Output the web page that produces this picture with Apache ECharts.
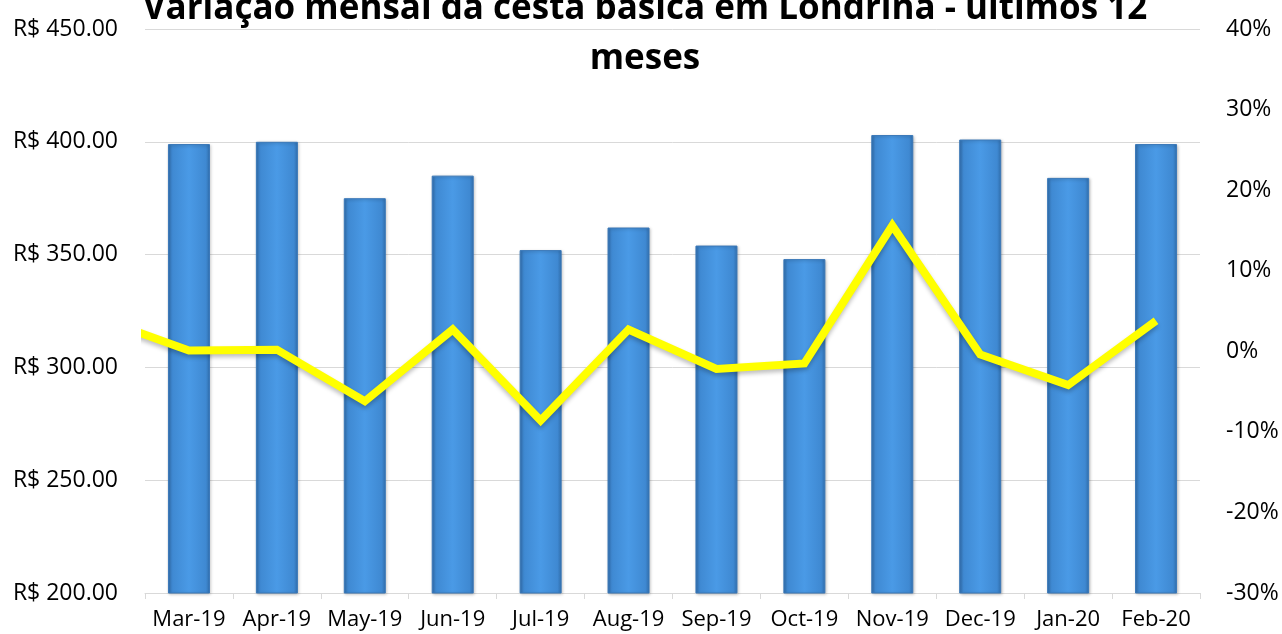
<!DOCTYPE html>
<html>
<head>
<meta charset="utf-8">
<script src="https://cdn.jsdelivr.net/npm/echarts@6/dist/echarts.min.js"></script>
<style>
html,body{margin:0;padding:0;background:#fff;}
#chart{width:1282px;height:634px;}
</style>
</head>
<body>
<div id="chart"></div>
<script>
var titleText = 'Variação mensal da cesta básica em Londrina - últimos 12\nmeses';
var categories = ['Mar-19','Apr-19','May-19','Jun-19','Jul-19','Aug-19','Sep-19','Oct-19','Nov-19','Dec-19','Jan-20','Feb-20'];
var basketPrice = [399, 400, 375, 385, 352, 362, 354, 348, 403, 401, 384, 399];
var monthlyVariation = [0.1, 0.2, -6.2, 2.7, -8.6, 2.7, -2.2, -1.5, 15.6, -0.4, -4.2, 3.8];
var priorMonthVariation = 4.0; // Feb-19, mostly clipped at the left edge
var priceAxis = {min: 200, max: 450, interval: 50};
var pctAxis = {min: -30, max: 40, interval: 10};

var linePoints = [[-1, priorMonthVariation]].concat(monthlyVariation.map(function (v, i) { return [i, v]; }));

var FONT = '"Open Sans", "Noto Sans", sans-serif';
var chart = echarts.init(document.getElementById('chart'), null, {renderer: 'canvas'});
chart.setOption({
  animation: false,
  backgroundColor: '#ffffff',
  title: {
    text: titleText,
    left: 640,
    top: -21,
    textAlign: 'center',
    textStyle: {fontFamily: FONT, fontWeight: 'bold', fontSize: 35, color: '#000', lineHeight: 50}
  },
  grid: {left: 145, right: 82, top: 29, bottom: 41, containLabel: false},
  xAxis: [{
    type: 'category',
    data: categories,
    boundaryGap: true,
    axisLine: {onZero: false, lineStyle: {color: '#d9d9d9', width: 1}},
    axisTick: {show: true, length: 6, lineStyle: {color: '#d9d9d9'}},
    axisLabel: {fontFamily: FONT, fontSize: 22, color: '#000', margin: 16, interval: 0},
    splitLine: {show: false}
  }, {
    type: 'value',
    min: -0.5,
    max: 11.5,
    show: false
  }],
  yAxis: [{
    type: 'value',
    min: priceAxis.min, max: priceAxis.max, interval: priceAxis.interval,
    axisLine: {show: false},
    axisTick: {show: false},
    axisLabel: {fontFamily: FONT, fontSize: 23, color: '#000', margin: 27,
      formatter: function (v) { return 'R$ ' + v.toFixed(2); }},
    splitLine: {lineStyle: {color: '#d9d9d9', width: 1}}
  }, {
    type: 'value',
    min: pctAxis.min, max: pctAxis.max, interval: pctAxis.interval,
    axisLine: {show: false},
    axisTick: {show: false},
    splitLine: {show: false},
    axisLabel: {fontFamily: FONT, fontSize: 23, color: '#000', margin: 26,
      formatter: function (v) { return v + '%'; }}
  }],
  series: [{
    type: 'bar',
    xAxisIndex: 0,
    yAxisIndex: 0,
    data: basketPrice,
    barWidth: 42,
    itemStyle: {
      color: new echarts.graphic.LinearGradient(0, 0, 1, 0, [
        {offset: 0, color: '#3270b0'},
        {offset: 0.1, color: '#3f89d2'},
        {offset: 0.5, color: '#4a9ae6'},
        {offset: 0.9, color: '#3f89d2'},
        {offset: 1, color: '#3270b0'}
      ]),
      borderColor: '#3a78b8',
      borderWidth: 1,
      shadowColor: 'rgba(0,0,0,0.25)',
      shadowBlur: 3,
      shadowOffsetX: 1,
      shadowOffsetY: 1
    }
  }, {
    type: 'line',
    xAxisIndex: 1,
    yAxisIndex: 1,
    data: linePoints,
    clip: true,
    showSymbol: false,
    symbol: 'none',
    lineStyle: {color: '#ffff00', width: 8, join: 'miter',
      shadowColor: 'rgba(0,0,0,0.25)', shadowBlur: 4, shadowOffsetY: 3},
    z: 3
  }]
});
</script>
</body>
</html>
